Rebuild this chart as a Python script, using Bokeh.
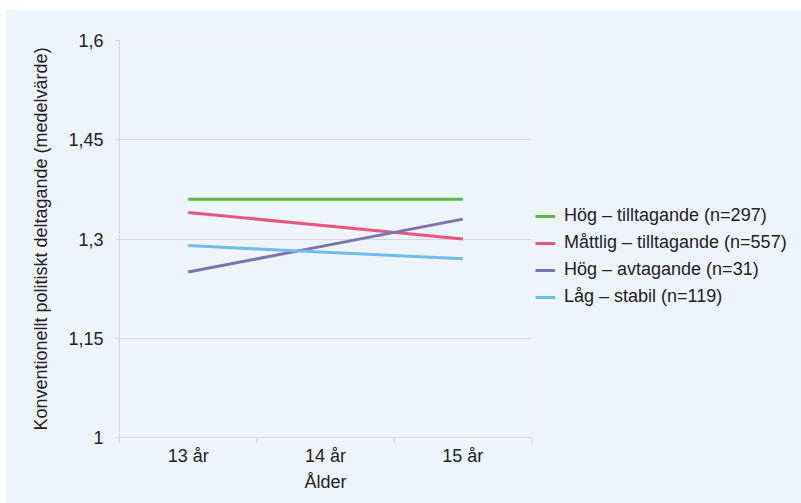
from bokeh.plotting import figure
from bokeh.models import (Range1d, FixedTicker, CustomJSTickFormatter, Legend, LegendItem)
from bokeh.embed import file_html
from bokeh.resources import INLINE

ages = ["13 år", "14 år", "15 år"]
series_names = ["Hög – tilltagande (n=297)", "Måttlig – tilltagande (n=557)",
                "Hög – avtagande (n=31)", "Låg – stabil (n=119)"]
hog_tilltagande = [1.36, 1.36, 1.36]
mattlig_tilltagande = [1.34, 1.32, 1.30]
hog_avtagande = [1.25, 1.29, 1.33]
lag_stabil = [1.29, 1.28, 1.27]
y_ticks = [1.0, 1.15, 1.3, 1.45, 1.6]

colors = ["#5cb947", "#e9557f", "#7a74b1", "#6fbde9"]
FONT = "Liberation Sans"
BG = "#edf4fb"
GRID = "#d4d8dd"
TXT = "#222222"
FS = "18px"

p = figure(frame_width=412, frame_height=397, output_backend="svg", toolbar_location=None,
           x_range=Range1d(0, len(ages)), y_range=Range1d(1.0, 1.6),
           min_border_left=114, min_border_right=270, min_border_top=31,
           min_border_bottom=66)
p.styles = {"margin-left": "5px", "margin-top": "9px"}
p.background_fill_color = BG
p.border_fill_color = BG
p.outline_line_color = None

x = [i + 0.5 for i in range(len(ages))]
renderers = []
for vals, col in zip([hog_tilltagande, mattlig_tilltagande, hog_avtagande, lag_stabil], colors):
    r = p.line(x, vals, line_color=col, line_width=3)
    renderers.append(r)

# axes
p.xaxis.ticker = FixedTicker(ticks=x, minor_ticks=list(range(len(ages) + 1)))
p.xaxis.major_label_overrides = {xv: a for xv, a in zip(x, ages)}
p.xaxis.major_tick_line_color = None
p.xaxis.major_tick_in = 0
p.xaxis.major_tick_out = 0
p.xaxis.minor_tick_line_color = GRID
p.xaxis.minor_tick_in = 0
p.xaxis.minor_tick_out = 5
p.xaxis.axis_line_color = GRID
p.xaxis.major_label_standoff = 3
p.xaxis.axis_label = "Ålder"
p.xaxis.axis_label_standoff = 3

p.yaxis.ticker = FixedTicker(ticks=y_ticks)
p.yaxis.formatter = CustomJSTickFormatter(code="""
    return tick.toFixed(2).replace(/0+$/, '').replace(/\\.$/, '').replace('.', ',');
""")
p.yaxis.major_tick_line_color = GRID
p.yaxis.major_tick_in = 0
p.yaxis.major_tick_out = 4
p.yaxis.minor_tick_line_color = None
p.yaxis.axis_line_color = GRID
p.yaxis.major_label_standoff = 12
p.yaxis.axis_label = "Konventionellt politiskt deltagande (medelvärde)"
p.yaxis.axis_label_standoff = 14

for ax in [p.xaxis[0], p.yaxis[0]]:
    ax.major_label_text_font = FONT
    ax.major_label_text_font_size = FS
    ax.major_label_text_color = TXT
    ax.axis_label_text_font = FONT
    ax.axis_label_text_font_size = FS
    ax.axis_label_text_font_style = "normal"
    ax.axis_label_text_color = TXT

p.xgrid.grid_line_color = None
p.ygrid.grid_line_color = GRID
p.ygrid.ticker = FixedTicker(ticks=y_ticks)

legend = Legend(items=[LegendItem(label=n, renderers=[r]) for n, r in zip(series_names, renderers)],
                location=(4, 130))
legend.background_fill_alpha = 0
legend.border_line_color = None
legend.label_text_font = FONT
legend.label_text_font_size = FS
legend.label_text_color = TXT
legend.glyph_width = 20
legend.glyph_height = 20
legend.label_height = 20
legend.label_standoff = 9
legend.spacing = 6
legend.padding = 0
legend.margin = 0
p.add_layout(legend, "right")

open("out.html", "w").write(file_html(p, INLINE))
